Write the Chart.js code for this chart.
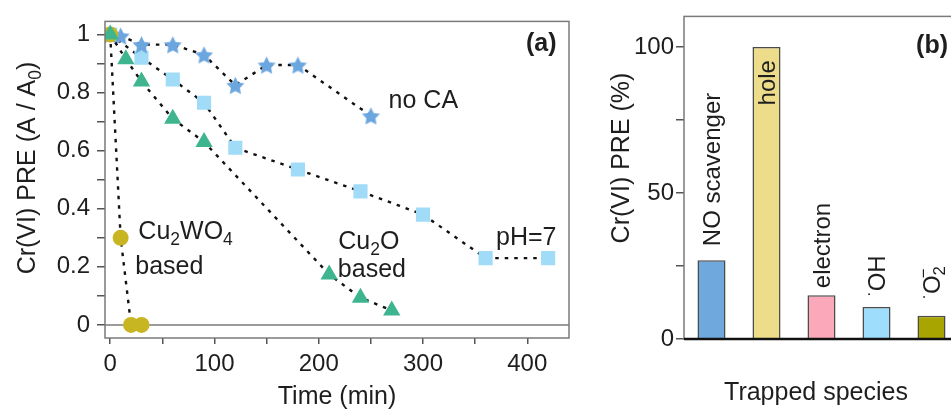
<!DOCTYPE html>
<html>
<head>
<meta charset="utf-8">
<script src="https://cdn.jsdelivr.net/npm/chart.js@4/dist/chart.umd.min.js"></script>
<style>
html, body { margin: 0; padding: 0; overflow: hidden; background: #fff; }
body { width: 951px; height: 413px; position: relative; }
canvas { position: absolute; top: 0; }
#chartA { left: 0; }
#chartB { left: 600px; }
</style>
</head>
<body>
<canvas id="chartA" width="600" height="413"></canvas>
<canvas id="chartB" width="380" height="413"></canvas>
<script>
// DATOS panel (a)
const tiempoTriangulo = [0, 15, 30, 60, 90, 210, 240, 270];
const preTriangulo = [1.0, 0.915, 0.838, 0.71, 0.63, 0.174, 0.094, 0.05];
const tiempoCirculo = [0, 10, 20, 30];
const preCirculo = [1.0, 0.3, 0, 0];
const tiempoEstrella = [0, 10, 30, 60, 90, 120, 150, 180, 250];
const preEstrella = [1.0, 0.995, 0.965, 0.965, 0.93, 0.825, 0.895, 0.895, 0.72];
const tiempoCuadro = [0, 30, 60, 90, 120, 180, 240, 300, 360, 420];
const preCuadro = [1.0, 0.92, 0.845, 0.765, 0.61, 0.535, 0.46, 0.38, 0.23, 0.23];

const xTickValores = [0, 50, 100, 150, 200, 250, 300, 350, 400];
const xTickEtiquetas = ['0', '', '100', '', '200', '', '300', '', '400'];
const yTickValores = [0, 0.1, 0.2, 0.3, 0.4, 0.5, 0.6, 0.7, 0.8, 0.9, 1.0];
const yTickEtiquetas = ['0', '', '0.2', '', '0.4', '', '0.6', '', '0.8', '', '1'];

// DATOS panel (b)
const especies = ['NO scavenger', 'hole', 'electron', '·OH', '·O2-'];
const preEspecies = [27, 100, 15, 11, 8];
const yTickValoresB = [0, 25, 50, 75, 100];
const yTickEtiquetasB = ['0', '', '50', '', '100'];

const FUENTE = '"Liberation Sans", Arial, sans-serif';
const COLOR_TEXTO = '#1e1e1e';
Chart.defaults.font.family = FUENTE;
Chart.defaults.color = COLOR_TEXTO;

// texto con subindices / superindices
function dibujarTexto(ctx, partes, x, y, align, size, peso) {
    const fuente = s => (peso || 'normal') + ' ' + s + 'px ' + FUENTE;
    const items = partes.map(p => {
        const s = (p.sub || p.sup) ? size * 0.7 : size;
        ctx.font = fuente(s);
        return { p: p, s: s, w: ctx.measureText(p.t).width };
    });
    let total = 0;
    items.forEach(it => { if (!it.p.stack) total += it.w; });
    let cx = align === 'center' ? x - total / 2 : (align === 'right' ? x - total : x);
    let prevX = cx;
    ctx.textAlign = 'left';
    ctx.textBaseline = 'alphabetic';
    ctx.fillStyle = COLOR_TEXTO;
    items.forEach(it => {
        ctx.font = fuente(it.s);
        const dy = it.p.sub ? size * 0.22 : (it.p.sup ? -size * 0.42 : 0);
        const px = it.p.stack ? prevX - it.w * 0.3 : cx;
        ctx.fillText(it.p.t, px, y + dy);
        if (!it.p.stack) { prevX = cx; cx += it.w; }
    });
}

function textoVertical(ctx, partes, x, y, align, size, dy) {
    ctx.save();
    ctx.translate(x, y);
    ctx.rotate(-Math.PI / 2);
    dibujarTexto(ctx, partes, 0, dy || 0, align, size);
    ctx.restore();
}

function crearEstrella(r, color) {
    const c = document.createElement('canvas');
    const s = Math.ceil(r * 2 + 2);
    c.width = s;
    c.height = s;
    const g = c.getContext('2d');
    g.fillStyle = color;
    g.beginPath();
    for (let i = 0; i < 10; i++) {
        const rad = i % 2 === 0 ? r : r * 0.5;
        const a = -Math.PI / 2 + i * Math.PI / 5;
        g.lineTo(s / 2 + rad * Math.cos(a), s / 2 + 1 + rad * Math.sin(a));
    }
    g.closePath();
    g.fill();
    return c;
}

function puntos(xs, ys) {
    return xs.map((x, i) => ({ x: x, y: ys[i] }));
}

function serie(nombre, xs, ys, color, estilo, radio) {
    return {
        label: nombre,
        data: puntos(xs, ys),
        showLine: true,
        borderColor: '#111',
        borderWidth: 2.4,
        borderDash: [3.5, 6],
        pointStyle: estilo,
        pointRadius: radio,
        pointBackgroundColor: color,
        pointBorderColor: color,
        pointBorderWidth: 0
    };
}

const anotacionesA = [
    { partes: [{ t: 'no CA' }], x: 267, y: 0.747, align: 'left' },
    { partes: [{ t: 'Cu' }, { t: '2', sub: true }, { t: 'WO' }, { t: '4', sub: true }], x: 27, y: 0.295, align: 'left' },
    { partes: [{ t: 'based' }], x: 24, y: 0.174, align: 'left' },
    { partes: [{ t: 'Cu' }, { t: '2', sub: true }, { t: 'O' }], x: 248, y: 0.261, align: 'center' },
    { partes: [{ t: 'based' }], x: 251, y: 0.164, align: 'center' },
    { partes: [{ t: 'pH=7' }], x: 370, y: 0.275, align: 'left' },
    { partes: [{ t: '(a)' }], x: 428, y: 0.944, align: 'right', peso: 'bold' }
];

const pluginMarcoA = {
    id: 'marcoA',
    beforeDatasetsDraw(chart) {
        const { ctx, chartArea: a, scales } = chart;
        const y0 = scales.y.getPixelForValue(0);
        ctx.save();
        ctx.strokeStyle = '#7a7a7a';
        ctx.lineWidth = 1.5;
        ctx.beginPath();
        ctx.moveTo(a.left, y0);
        ctx.lineTo(a.right, y0);
        ctx.stroke();
        ctx.restore();
    },
    afterDraw(chart) {
        const { ctx, chartArea: a, scales } = chart;
        ctx.save();
        ctx.strokeStyle = '#7a7a7a';
        ctx.lineWidth = 1.5;
        ctx.strokeRect(a.left, a.top, a.right - a.left, a.bottom - a.top);
        anotacionesA.forEach(n => {
            dibujarTexto(ctx, n.partes, scales.x.getPixelForValue(n.x), scales.y.getPixelForValue(n.y), n.align, 25, n.peso);
        });
        dibujarTexto(ctx, [{ t: 'Time (min)' }], (a.left + a.right) / 2, 404, 'center', 25);
        textoVertical(ctx, [{ t: 'Cr(VI) PRE (A / A' }, { t: '0', sub: true }, { t: ')' }], 35, 168, 'center', 25);
        ctx.restore();
    }
};

const chartA = new Chart(document.getElementById('chartA'), {
    type: 'scatter',
    data: {
        datasets: [
            serie('Cu2O based', tiempoTriangulo, preTriangulo, '#3fb58f', 'triangle', 10),
            serie('Cu2WO4 based', tiempoCirculo, preCirculo, '#c8b522', 'circle', 8),
            serie('no CA', tiempoEstrella, preEstrella, '#6ca6de', crearEstrella(9.5, '#6ca6de'), 9),
            serie('pH=7', tiempoCuadro, preCuadro, '#a0dbf8', 'rect', 10)
        ]
    },
    options: {
        responsive: false,
        animation: false,
        layout: { padding: { top: 13, right: 31, left: 0, bottom: 0 } },
        plugins: { legend: { display: false }, tooltip: { enabled: false } },
        scales: {
            x: {
                type: 'linear',
                min: -5,
                max: 440,
                afterFit: s => { s.height = 75; },
                afterBuildTicks: s => { s.ticks = xTickValores.map(v => ({ value: v })); },
                ticks: {
                    autoSkip: false,
                    maxRotation: 0,
                    padding: 6,
                    font: { size: 24 },
                    color: COLOR_TEXTO,
                    callback: (v, i) => xTickEtiquetas[i]
                },
                grid: { drawOnChartArea: false, drawTicks: true, tickLength: 6, color: '#555', lineWidth: 1.5 },
                border: { display: false }
            },
            y: {
                min: -0.045,
                max: 1.045,
                afterFit: s => { s.width = 105; },
                afterBuildTicks: s => { s.ticks = yTickValores.map(v => ({ value: v })); },
                ticks: {
                    autoSkip: false,
                    padding: 7,
                    font: { size: 24 },
                    color: COLOR_TEXTO,
                    callback: (v, i) => yTickEtiquetas[i]
                },
                grid: { drawOnChartArea: false, drawTicks: true, tickLength: 8, color: '#555', lineWidth: 1.5 },
                border: { display: false }
            }
        }
    },
    plugins: [pluginMarcoA]
});

// PANEL (b)
const etiquetasBarras = [
    [{ t: 'NO scavenger' }],
    [{ t: 'hole' }],
    [{ t: 'electron' }],
    [{ t: '·', sup: true }, { t: 'OH' }],
    [{ t: '·', sup: true }, { t: 'O' }, { t: '2', sub: true }, { t: '−', sup: true, stack: true }]
];
const separacionEtiquetas = [14, -13, 7, 10, 16];

const pluginMarcoB = {
    id: 'marcoB',
    afterDraw(chart) {
        const { ctx, chartArea: a } = chart;
        ctx.save();
        ctx.strokeStyle = '#7a7a7a';
        ctx.lineWidth = 1.5;
        ctx.strokeRect(a.left, a.top, a.right - a.left, a.bottom - a.top);
        ctx.strokeStyle = '#111';
        ctx.lineWidth = 2.5;
        ctx.beginPath();
        ctx.moveTo(a.left, a.bottom);
        ctx.lineTo(a.right, a.bottom);
        ctx.stroke();

        const meta = chart.getDatasetMeta(0);
        meta.data.forEach((barra, i) => {
            const gap = separacionEtiquetas[i];
            textoVertical(ctx, etiquetasBarras[i], barra.x, barra.y - gap, gap < 0 ? 'right' : 'left', 24, 8);
        });

        dibujarTexto(ctx, [{ t: '(b)' }], 348, 53, 'right', 25, 'bold');
        dibujarTexto(ctx, [{ t: 'Trapped species' }], 216, 400, 'center', 25);
        textoVertical(ctx, [{ t: 'Cr(VI) PRE (%)' }], 29, 158, 'center', 25);
        ctx.restore();
    }
};

const chartB = new Chart(document.getElementById('chartB'), {
    type: 'bar',
    data: {
        labels: especies,
        datasets: [{
            label: 'Cr(VI) PRE',
            data: preEspecies,
            backgroundColor: ['#6fa8dc', '#eddc8a', '#fba9ba', '#9edefc', '#a8a400'],
            borderColor: '#4a4a4a',
            borderWidth: 1.5,
            borderSkipped: 'bottom',
            categoryPercentage: 1,
            barPercentage: 0.51
        }]
    },
    options: {
        responsive: false,
        animation: false,
        layout: { padding: { top: 13, right: 21, left: 0, bottom: 0 } },
        plugins: { legend: { display: false }, tooltip: { enabled: false } },
        scales: {
            x: {
                afterFit: s => { s.height = 74; },
                ticks: { display: false },
                grid: { display: false },
                border: { display: false }
            },
            y: {
                min: 0,
                max: 110.5,
                afterFit: s => { s.width = 84; },
                afterBuildTicks: s => { s.ticks = yTickValoresB.map(v => ({ value: v })); },
                ticks: {
                    autoSkip: false,
                    padding: 2,
                    font: { size: 24 },
                    color: COLOR_TEXTO,
                    callback: (v, i) => yTickEtiquetasB[i]
                },
                grid: { drawOnChartArea: false, drawTicks: true, tickLength: 8, color: '#555', lineWidth: 1.5 },
                border: { display: false }
            }
        }
    },
    plugins: [pluginMarcoB]
});
</script>
</body>
</html>
